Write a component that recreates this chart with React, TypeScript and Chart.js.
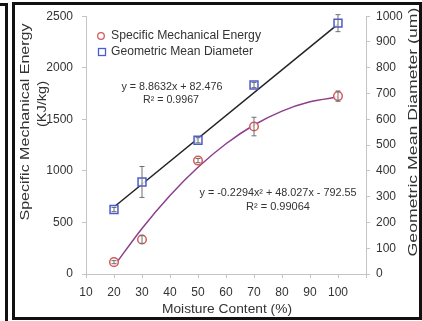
import React, { useEffect, useRef } from 'react';
import { Chart, registerables } from 'chart.js';

Chart.register(...registerables);

// ---- data ----
const moisture = [20, 30, 50, 70, 100];
const smeValues = [115, 335, 1100, 1430, 1725];
const smeErrors = [15, 40, 20, 90, 50];
const gmdValues = [250, 357, 519, 733, 973];
const gmdErrors = [8, 60, 10, 10, 33];

const smeTrendX = [20, 30, 40, 50, 60, 70, 80, 90, 100];
const smeTrendY = [76, 442, 762, 1035, 1263, 1445, 1580, 1670, 1716];
const gmdTrendX = [20, 100];
const gmdTrendY = [260, 969];

const xTicks = [10, 20, 30, 40, 50, 60, 70, 80, 90, 100];
const xAxisMax = 110;
const leftTicks = [0, 500, 1000, 1500, 2000, 2500];
const rightTicks = [0, 100, 200, 300, 400, 500, 600, 700, 800, 900, 1000];

const smeLabel = 'Specific Mechanical Energy';
const gmdLabel = 'Geometric Mean Diameter';
const linEq = 'y = 8.8632x + 82.476';
const linR2 = 'R² = 0.9967';
const polyEq = 'y = -0.2294x² + 48.027x - 792.55';
const polyR2 = 'R² = 0.99064';
const leftTitle1 = 'Specific Mechanical Energy';
const leftTitle2 = '(KJ/kg)';
const rightTitle = 'Geometric Mean Diameter (um)';
const xTitle = 'Moisture Content (%)';

const FONT = '"Liberation Sans", Arial, Helvetica, sans-serif';
const RED = '#d65a5a';
const BLUE = '#4a5ccf';
const PURPLE = '#8c3f8e';
const AXIS = '#c4c4c4';
const TEXT = '#333333';

function fitText(
  ctx: CanvasRenderingContext2D,
  text: string,
  x: number,
  y: number,
  size: number,
  width: number,
  rot: number,
  align: CanvasTextAlign = 'center',
  color: string = TEXT
) {
  ctx.save();
  ctx.font = `${size}px ${FONT}`;
  const w = ctx.measureText(text).width;
  ctx.translate(x, y);
  ctx.rotate(rot);
  ctx.scale(width / w, 1);
  ctx.textAlign = align;
  ctx.textBaseline = 'middle';
  ctx.fillStyle = color;
  ctx.fillText(text, 0, 0);
  ctx.restore();
}

const errorBarPlugin = {
  id: 'errorBars',
  afterDatasetsDraw(chart: any) {
    const ctx = chart.ctx;
    chart.data.datasets.forEach((ds: any) => {
      if (!ds.errors) return;
      const yScale = chart.scales[ds.yAxisID];
      const xScale = chart.scales.x;
      ctx.save();
      ctx.strokeStyle = '#6f6f6f';
      ctx.lineWidth = 1;
      ds.data.forEach((pt: any, i: number) => {
        const e = ds.errors[i];
        const px = xScale.getPixelForValue(pt.x);
        const top = yScale.getPixelForValue(pt.y + e);
        const bot = yScale.getPixelForValue(pt.y - e);
        ctx.beginPath();
        ctx.moveTo(px, top);
        ctx.lineTo(px, bot);
        ctx.moveTo(px - 2.5, top);
        ctx.lineTo(px + 2.5, top);
        ctx.moveTo(px - 2.5, bot);
        ctx.lineTo(px + 2.5, bot);
        ctx.stroke();
      });
      ctx.restore();
    });
  },
};

const textPlugin = {
  id: 'texts',
  afterDraw(chart: any) {
    const ctx = chart.ctx as CanvasRenderingContext2D;
    // axis titles
    fitText(ctx, leftTitle1, 26, 122, 12, 197, -Math.PI / 2);
    fitText(ctx, leftTitle2, 43, 104, 12, 46, -Math.PI / 2);
    fitText(ctx, rightTitle, 414, 132, 12, 249, -Math.PI / 2);
    fitText(ctx, xTitle, 227, 310, 12, 130, 0);
    // legend
    ctx.save();
    ctx.lineWidth = 1.3;
    ctx.strokeStyle = RED;
    ctx.beginPath();
    ctx.arc(101, 36, 3.3, 0, Math.PI * 2);
    ctx.stroke();
    ctx.strokeStyle = BLUE;
    ctx.strokeRect(98.5, 48.5, 7, 7);
    ctx.restore();
    fitText(ctx, smeLabel, 111, 36, 12, 150, 0, 'left');
    fitText(ctx, gmdLabel, 111, 52, 12, 142, 0, 'left');
    // trendline labels
    fitText(ctx, linEq, 172, 87, 10, 101, 0);
    fitText(ctx, linR2, 171, 100, 10, 56, 0);
    fitText(ctx, polyEq, 278, 193, 10, 157, 0);
    fitText(ctx, polyR2, 278, 207, 10, 64, 0);
  },
};

export default function App() {
  const ref = useRef<HTMLCanvasElement>(null);

  useEffect(() => {
    if (!ref.current) return;
    Chart.defaults.font.family = FONT;
    const tickFont = { size: 12, family: FONT };
    const chart = new Chart(ref.current, {
      type: 'line',
      data: {
        datasets: [
          {
            label: smeLabel,
            data: moisture.map((x, i) => ({ x, y: smeValues[i] })),
            errors: smeErrors,
            yAxisID: 'y',
            showLine: false,
            pointStyle: 'circle',
            pointRadius: 4.3,
            pointBorderWidth: 1.5,
            pointBorderColor: RED,
            pointBackgroundColor: 'rgba(255,255,255,0.85)',
            order: 0,
          } as any,
          {
            label: gmdLabel,
            data: moisture.map((x, i) => ({ x, y: gmdValues[i] })),
            errors: gmdErrors,
            yAxisID: 'y2',
            showLine: false,
            pointStyle: 'rect',
            pointRadius: 5.6,
            pointBorderWidth: 1.5,
            pointBorderColor: BLUE,
            pointBackgroundColor: 'rgba(255,255,255,0.85)',
            order: 0,
          } as any,
          {
            label: 'SME trend',
            data: smeTrendX.map((x, i) => ({ x, y: smeTrendY[i] })),
            yAxisID: 'y',
            borderColor: PURPLE,
            borderWidth: 1.5,
            pointRadius: 0,
            cubicInterpolationMode: 'monotone',
            order: 1,
          },
          {
            label: 'GMD trend',
            data: gmdTrendX.map((x, i) => ({ x, y: gmdTrendY[i] })),
            yAxisID: 'y2',
            borderColor: '#222222',
            borderWidth: 1.5,
            pointRadius: 0,
            order: 1,
          },
        ],
      },
      options: {
        responsive: false,
        animation: false,
        devicePixelRatio: 1,
        layout: { padding: { left: 0, right: 0, top: 16, bottom: 0 } },
        plugins: { legend: { display: false }, tooltip: { enabled: false } },
        scales: {
          x: {
            type: 'linear',
            min: xTicks[0],
            max: xAxisMax,
            afterBuildTicks: (s: any) => {
              s.ticks = [...xTicks, xAxisMax].map((v) => ({ value: v }));
            },
            afterFit: (s: any) => {
              s.height = 47;
            },
            ticks: {
              color: TEXT,
              font: tickFont,
              padding: 7,
              maxRotation: 0,
              callback: (v: any) => (xTicks.includes(v) ? String(v) : ''),
            },
            grid: { drawOnChartArea: false, color: AXIS, tickLength: 4 },
            border: { color: AXIS },
          },
          y: {
            type: 'linear',
            position: 'left',
            min: leftTicks[0],
            max: leftTicks[leftTicks.length - 1],
            afterBuildTicks: (s: any) => {
              s.ticks = leftTicks.map((v) => ({ value: v }));
            },
            afterFit: (s: any) => {
              s.width = 86;
            },
            ticks: { color: TEXT, font: tickFont, padding: 9, callback: (v: any) => String(v) },
            grid: { drawOnChartArea: false, color: AXIS, tickLength: 4 },
            border: { color: AXIS },
          },
          y2: {
            type: 'linear',
            position: 'right',
            min: rightTicks[0],
            max: rightTicks[rightTicks.length - 1],
            afterBuildTicks: (s: any) => {
              s.ticks = rightTicks.map((v) => ({ value: v }));
            },
            afterFit: (s: any) => {
              s.width = 56;
            },
            ticks: { color: TEXT, font: tickFont, padding: 6, callback: (v: any) => String(v) },
            grid: { drawOnChartArea: false, color: AXIS, tickLength: 4 },
            border: { color: AXIS },
          },
        },
      } as any,
      plugins: [errorBarPlugin, textPlugin],
    });
    return () => chart.destroy();
  }, []);

  return (
    <div style={{ position: 'absolute', left: 0, top: 0, width: 422, height: 321, background: '#fff', overflow: 'hidden' }}>
      <canvas ref={ref} width={422} height={321} style={{ position: 'absolute', left: 0, top: 0 }} />
      <div
        style={{
          position: 'absolute',
          left: 0,
          top: 3,
          width: 5,
          height: 330,
          borderTop: '3px solid #111',
          borderRight: '3px solid #111',
        }}
      />
      <div
        style={{
          position: 'absolute',
          left: 12,
          top: 2,
          width: 404,
          height: 312,
          border: '3px solid #111',
        }}
      />
    </div>
  );
}
